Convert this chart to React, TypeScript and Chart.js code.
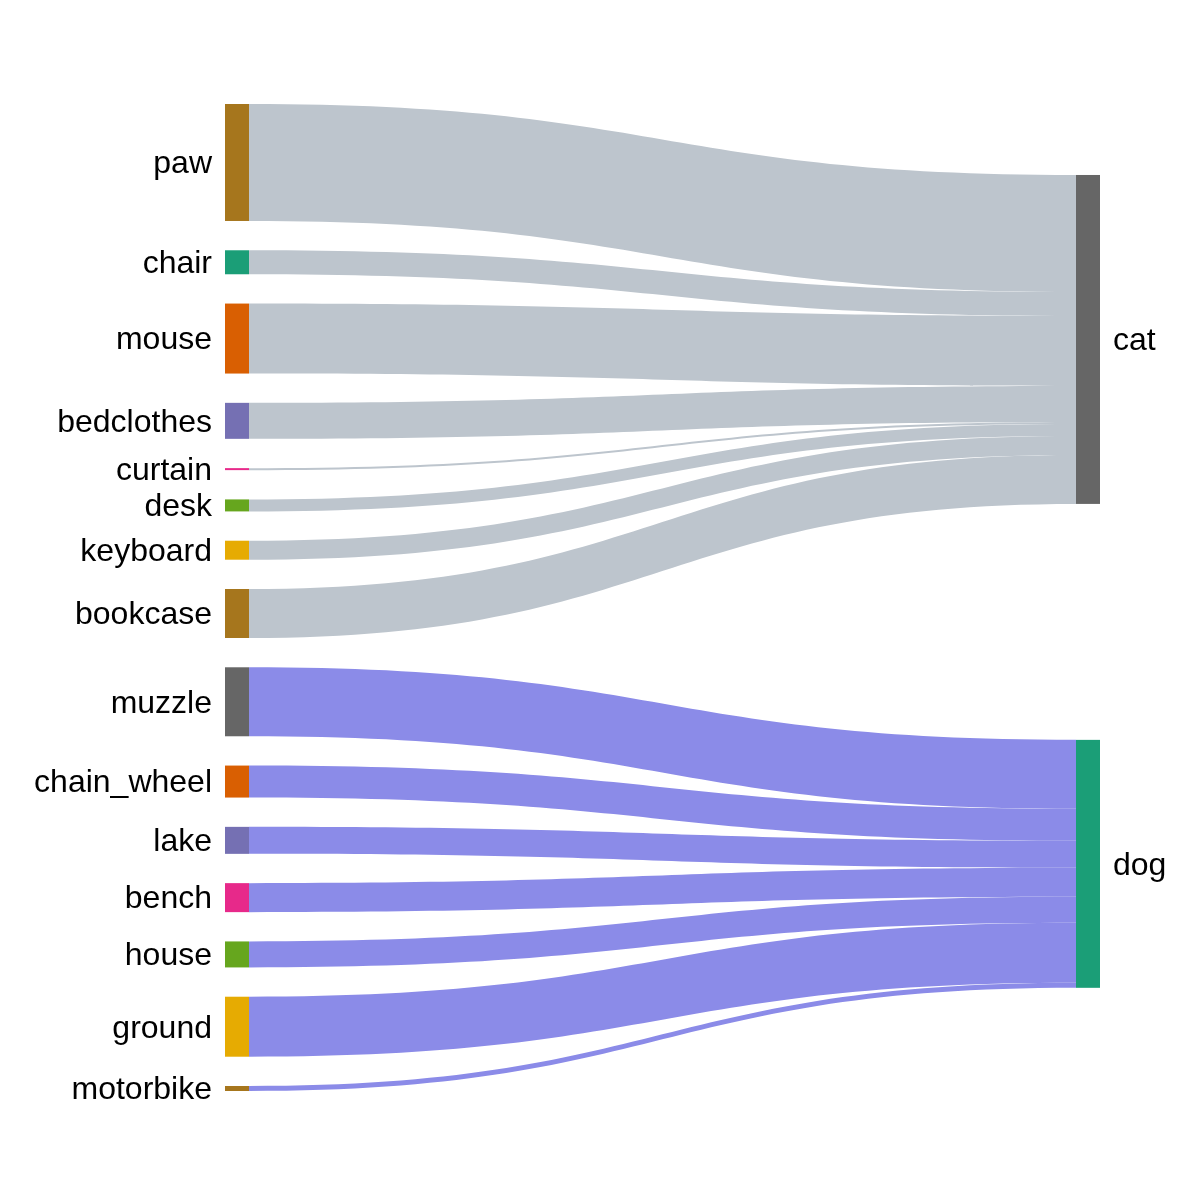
import React, { useEffect, useRef } from "react";
import { Chart, registerables } from "chart.js";

Chart.register(...registerables);

// ---- Data ----
const sourceLabels = [
  "paw", "chair", "mouse", "bedclothes", "curtain", "desk", "keyboard", "bookcase",
  "muzzle", "chain_wheel", "lake", "bench", "house", "ground", "motorbike",
];
const sourceTargets = [
  "cat", "cat", "cat", "cat", "cat", "cat", "cat", "cat",
  "dog", "dog", "dog", "dog", "dog", "dog", "dog",
];
const linkValues = [117, 24, 70, 36, 2, 12, 19, 49, 69, 32, 27, 29, 26, 60, 5];
const sourceColors = [
  "#a6761d", "#1b9e77", "#d95f02", "#7570b3", "#e7298a", "#66a61e", "#e6ab02", "#a6761d",
  "#666666", "#d95f02", "#7570b3", "#e7298a", "#66a61e", "#e6ab02", "#a6761d",
];
const targetLabels = ["cat", "dog"];
const targetColors = ["#666666", "#1b9e77"];
const linkColors = ["#bdc5cd", "#8b8be8"];
// vertical position (top) of target nodes, in value units
const targetTops = [71, 636];
const nodeGap = 29.3;

// ---- Layout constants ----
const NODE_W = 24;
const FONT = "32px 'Liberation Sans', Arial, Helvetica, sans-serif";

const totalHeight =
  linkValues.reduce((a, b) => a + b, 0) + nodeGap * (linkValues.length - 1);

const sankeyPlugin = {
  id: "sankeyDraw",
  afterDatasetsDraw(chart: any) {
    const ctx = chart.ctx as CanvasRenderingContext2D;
    const xs = chart.scales.x;
    const ys = chart.scales.y;
    const xL0 = xs.getPixelForValue(0);
    const xL1 = xL0 + NODE_W;
    const xR1 = xs.getPixelForValue(1);
    const xR0 = xR1 - NODE_W;

    // source node positions
    const srcTop: number[] = [];
    let acc = 0;
    linkValues.forEach((v) => {
      srcTop.push(acc);
      acc += v + nodeGap;
    });

    // target offsets (stacking)
    const tgtOffset: Record<string, number> = {};
    targetLabels.forEach((t, i) => (tgtOffset[t] = targetTops[i]));
    const tgtSize: Record<string, number> = {};
    targetLabels.forEach((t) => (tgtSize[t] = 0));
    sourceTargets.forEach((t, i) => (tgtSize[t] += linkValues[i]));

    ctx.save();
    // links
    const xm = (xL1 + xR0) / 2;
    linkValues.forEach((v, i) => {
      const t = sourceTargets[i];
      const ti = targetLabels.indexOf(t);
      const y0t = ys.getPixelForValue(srcTop[i]);
      const y0b = ys.getPixelForValue(srcTop[i] + v);
      const y1t = ys.getPixelForValue(tgtOffset[t]);
      const y1b = ys.getPixelForValue(tgtOffset[t] + v);
      tgtOffset[t] += v;
      ctx.beginPath();
      ctx.moveTo(xL1, y0t);
      ctx.bezierCurveTo(xm, y0t, xm, y1t, xR0, y1t);
      ctx.lineTo(xR0, y1b);
      ctx.bezierCurveTo(xm, y1b, xm, y0b, xL1, y0b);
      ctx.closePath();
      ctx.fillStyle = linkColors[ti];
      ctx.fill();
    });

    // source nodes + labels
    ctx.font = FONT;
    ctx.textBaseline = "middle";
    linkValues.forEach((v, i) => {
      const yt = ys.getPixelForValue(srcTop[i]);
      const yb = ys.getPixelForValue(srcTop[i] + v);
      ctx.fillStyle = sourceColors[i];
      ctx.fillRect(xL0, yt, NODE_W, Math.max(yb - yt, 1));
      ctx.fillStyle = "#000";
      ctx.textAlign = "right";
      ctx.fillText(sourceLabels[i], xL0 - 13, (yt + yb) / 2 + 2);
    });

    // target nodes + labels
    targetLabels.forEach((t, i) => {
      const yt = ys.getPixelForValue(targetTops[i]);
      const yb = ys.getPixelForValue(targetTops[i] + tgtSize[t]);
      ctx.fillStyle = targetColors[i];
      ctx.fillRect(xR0, yt, NODE_W, yb - yt);
      ctx.fillStyle = "#000";
      ctx.textAlign = "left";
      ctx.fillText(t, xR1 + 13, (yt + yb) / 2 + 2);
    });
    ctx.restore();
  },
};

export default function App() {
  const ref = useRef<HTMLCanvasElement | null>(null);
  useEffect(() => {
    if (!ref.current) return;
    const chart = new Chart(ref.current, {
      type: "scatter",
      data: { datasets: [{ data: [] }] },
      options: {
        animation: false,
        responsive: false,
        layout: { padding: { left: 225, right: 100, top: 104, bottom: 109 } },
        plugins: { legend: { display: false }, tooltip: { enabled: false } },
        scales: {
          x: { type: "linear", min: 0, max: 1, display: false },
          y: { type: "linear", min: 0, max: totalHeight, reverse: true, display: false },
        },
      },
      plugins: [sankeyPlugin],
    });
    return () => chart.destroy();
  }, []);
  return (
    <div style={{ position: "absolute", left: 0, top: 0, width: 1200, height: 1200, background: "#fff" }}>
      <canvas ref={ref} width={1200} height={1200} />
    </div>
  );
}
